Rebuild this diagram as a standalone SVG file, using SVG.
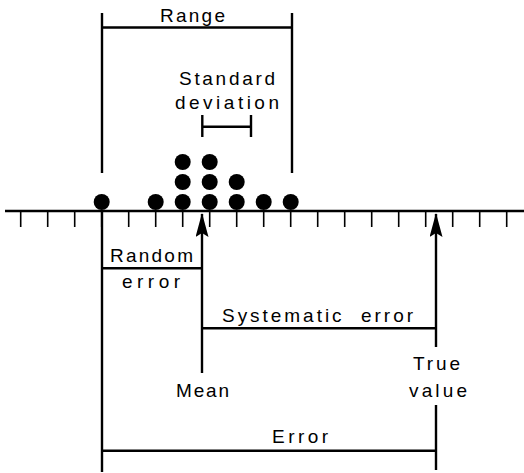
<svg xmlns="http://www.w3.org/2000/svg" width="524" height="473" viewBox="0 0 524 473">
  <style>
    .ln { stroke: #000; stroke-width: 2.4; fill: none; }
    .tick { stroke: #000; stroke-width: 1.6; fill: none; }
    .dot { fill: #000; }
    text { font-family: "Liberation Sans", Arial, sans-serif; font-size: 19px; fill: #000; }
  </style>
  <defs>
    <!-- narrow filled arrowhead, drawn along +x so orient="auto" follows the line -->
    <marker id="arrow" viewBox="0 0 24 13" refX="23" refY="6.5" markerWidth="24" markerHeight="13" markerUnits="userSpaceOnUse" orient="auto">
      <path d="M24,6.5 L0,0 L4,6.5 L0,13 Z" fill="#000"/>
    </marker>
  </defs>
  <rect width="524" height="473" fill="#fff"/>

  <!-- number line -->
  <g id="axis">
    <line class="ln" x1="5" y1="211" x2="524" y2="211"/>
    <path class="tick" d="M20.7,211v16 M47.7,211v16 M74.7,211v16 M101.7,211v16 M128.7,211v16 M155.7,211v16 M182.7,211v16 M209.7,211v16 M236.7,211v16 M263.7,211v16 M290.7,211v16 M317.7,211v16 M344.7,211v16 M371.7,211v16 M398.7,211v16 M425.7,211v16 M452.7,211v16 M479.7,211v16 M506.7,211v16"/>
  </g>

  <!-- measurements -->
  <g id="measurements">
    <circle class="dot" cx="101.7" cy="202" r="8"/>
    <circle class="dot" cx="155.7" cy="202" r="8"/>
    <circle class="dot" cx="182.7" cy="202" r="8"/>
    <circle class="dot" cx="182.7" cy="182" r="8"/>
    <circle class="dot" cx="182.7" cy="162" r="8"/>
    <circle class="dot" cx="209.7" cy="202" r="8"/>
    <circle class="dot" cx="209.7" cy="182" r="8"/>
    <circle class="dot" cx="209.7" cy="162" r="8"/>
    <circle class="dot" cx="236.7" cy="202" r="8"/>
    <circle class="dot" cx="236.7" cy="182" r="8"/>
    <circle class="dot" cx="263.7" cy="202" r="8"/>
    <circle class="dot" cx="290.7" cy="202" r="8"/>
  </g>

  <!-- brackets and arrows -->
  <g id="connectors">
    <!-- range bracket -->
    <path class="ln" d="M102,13 V173 M292,13 V173 M102,27.5 H292"/>
    <!-- standard deviation bar -->
    <path class="ln" d="M202.3,115 V137 M251,115 V137 M202.3,126.7 H251"/>
    <!-- lower left vertical -->
    <path class="ln" d="M102,211 V472"/>
    <!-- mean arrow -->
    <line class="ln" x1="202" y1="373" x2="202" y2="214" marker-end="url(#arrow)"/>
    <!-- true value arrow -->
    <line class="ln" x1="436" y1="347" x2="436" y2="214" marker-end="url(#arrow)"/>
    <path class="ln" d="M436,405 V470"/>
    <!-- random error -->
    <path class="ln" d="M102,268.3 H202"/>
    <!-- systematic error -->
    <path class="ln" d="M202,328.3 H436"/>
    <!-- error -->
    <path class="ln" d="M102,450.7 H436"/>
  </g>

  <g id="label-range"><text x="160" y="22" textLength="65" lengthAdjust="spacing">Range</text></g>
  <g id="label-sd">
    <text x="179" y="85" textLength="96" lengthAdjust="spacing">Standard</text>
    <text x="175" y="109" textLength="104" lengthAdjust="spacing">deviation</text>
  </g>
  <g id="label-random">
    <text x="110" y="261.7" textLength="83" lengthAdjust="spacing">Random</text>
    <text x="122" y="288" textLength="58" lengthAdjust="spacing">error</text>
  </g>
  <g id="label-systematic"><text x="222" y="321.7" textLength="191" lengthAdjust="spacing" xml:space="preserve">Systematic  error</text></g>
  <g id="label-mean"><text x="176" y="396.7" textLength="53" lengthAdjust="spacing">Mean</text></g>
  <g id="label-true">
    <text x="413" y="370" textLength="47" lengthAdjust="spacing">True</text>
    <text x="409" y="396.7" textLength="58" lengthAdjust="spacing">value</text>
  </g>
  <g id="label-error"><text x="272" y="443" textLength="56" lengthAdjust="spacing">Error</text></g>
</svg>
